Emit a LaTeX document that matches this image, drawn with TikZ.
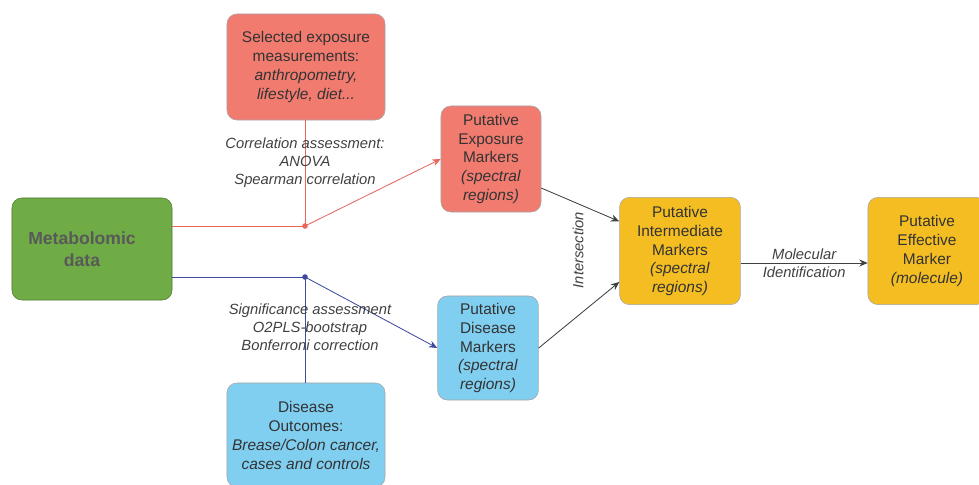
\documentclass[tikz,border=0pt]{standalone}
\usepackage{xcolor}
\usepackage{fontspec}
\setmainfont{Liberation Sans}
\usetikzlibrary{arrows.meta}

\definecolor{metgreen}{HTML}{6FAC46}
\definecolor{expred}{HTML}{F27B70}
\definecolor{disblue}{HTML}{80CEF0}
\definecolor{intgold}{HTML}{F4BE22}
\definecolor{redline}{HTML}{E8665C}
\definecolor{blueline}{HTML}{3F4C9E}

\begin{document}
\begin{tikzpicture}[x=0.025cm, y=-0.025cm,
  box/.style={draw=black!35, rounded corners=7pt, align=center, text=black!80,
              fill=#1, inner sep=2pt, font=\fontsize{11}{13.5}\selectfont},
  arr/.style={-{Stealth[length=6pt,width=5pt]}, semithick},
  note/.style={align=center, text=black!75, font=\itshape\fontsize{10.5}{12.8}\selectfont},
  dot/.style={circle, fill=#1, inner sep=1.4pt}
]
  \useasboundingbox (0,0) rectangle (979,485);

  % boxes
  \node[box=metgreen, draw=metgreen!70!black, minimum width=4cm, minimum height=2.55cm,
        text=black!65, font=\bfseries\fontsize{12.5}{16}\selectfont] (meta) at (92,249)
    {Metabolomic\hspace*{0.5cm}\\data\hspace*{0.5cm}};
  \node[box=expred, minimum width=3.95cm, minimum height=2.65cm] (sel) at (306,67)
    {Selected exposure\\measurements:\\\textit{anthropometry,}\\\textit{lifestyle, diet...}};
  \node[box=expred, minimum width=2.5cm, minimum height=2.65cm] (pem) at (491,159)
    {Putative\\Exposure\\Markers\\\textit{(spectral}\\\textit{regions)}};
  \node[box=disblue, minimum width=2.52cm, minimum height=2.6cm] (pdm) at (488,348)
    {Putative\\Disease\\Markers\\\textit{(spectral}\\\textit{regions)}};
  \node[box=disblue, minimum width=3.95cm, minimum height=2.6cm] (dout) at (306,435)
    {Disease\\Outcomes:\\\textit{Brease/Colon cancer,}\\\textit{cases and controls}};
  \node[box=intgold, minimum width=3.02cm, minimum height=2.68cm] (pim) at (680,251)
    {Putative\\Intermediate\\Markers\\\textit{(spectral}\\\textit{regions)}};
  \node[box=intgold, minimum width=2.95cm, minimum height=2.68cm] (pef) at (927,251)
    {Putative\\Effective\\Marker\\\textit{(molecule)}};

  % junctions
  \coordinate (rj) at (305,226);
  \coordinate (bj) at (305,277);

  % exposure branch
  \draw[redline, semithick] (meta.east |- rj) -- (rj) -- (rj |- sel.south);
  \draw[redline, arr] (rj) -- (pem.west);
  \node[dot=redline] at (rj) {};
  \node[note] (corr) at (305,163) {Correlation assessment:\\ANOVA\\Spearman correlation};

  % disease branch
  \draw[blueline, semithick] (meta.east |- bj) -- (bj) -- (bj |- dout.north);
  \draw[blueline, arr] (bj) -- (pdm.west);
  \node[dot=blueline] at (bj) {};
  \node[note] (sig) at (310,327) {Significance assessment\\O2PLS-bootstrap\\Bonferroni correction};

  % intersection
  \draw[black!75, arr] (pem.-30) -- (pim.154);
  \draw[black!75, arr] (pdm.east) -- (pim.-153);
  \node[note, rotate=90] (inter) at (578,250) {Intersection};

  % identification
  \draw[black!75, arr] ([yshift=-0.3cm]pim.east) -- node[note] (molid) {Molecular\\Identification}
    ([yshift=-0.3cm]pim.east -| pef.west);
\end{tikzpicture}
\end{document}
